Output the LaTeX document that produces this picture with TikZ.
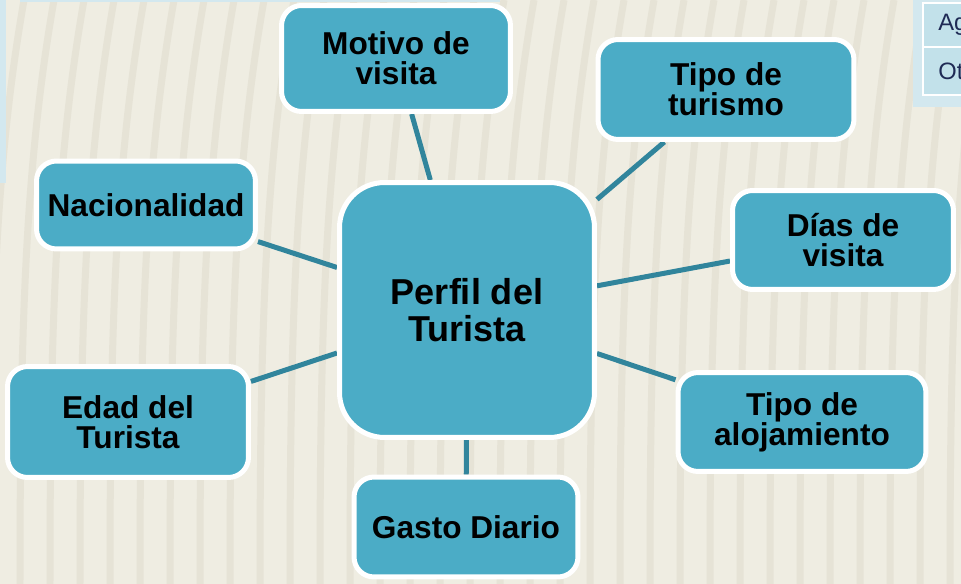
\documentclass[tikz,border=0pt]{standalone}
\usepackage{fontspec}
\setmainfont{Liberation Sans}
\usetikzlibrary{backgrounds}

\definecolor{boxblue}{HTML}{4BACC6}
\definecolor{linkteal}{HTML}{31859C}
\definecolor{sand}{HTML}{EFEDE2}
\definecolor{sandline}{HTML}{E6E3D6}
\definecolor{paleblue}{HTML}{D3E8EF}
\definecolor{cellblue}{HTML}{C2E1EA}
\definecolor{inkblue}{HTML}{1F2A55}

\begin{document}
\begin{tikzpicture}[x=0.02cm,y=-0.02cm,
    item/.style={draw=white, line width=0.1cm, fill=boxblue, rounded corners=0.4cm,
      align=center, inner sep=0pt, font=\fontsize{18}{17}\selectfont\bfseries},
    centerbox/.style={draw=white, line width=0.1cm, fill=boxblue, rounded corners=0.9cm,
      align=center, inner sep=0pt, minimum width=5.1cm, minimum height=5.1cm,
      font=\fontsize{20.5}{21}\selectfont\bfseries},
    link/.style={draw=linkteal, line width=0.1cm},
    stripe/.style={draw=sandline, line width=0.14cm},
    cell/.style={draw=white, line width=0.04cm, fill=cellblue},
    celltext/.style={anchor=west, inner sep=0pt, text=inkblue, font=\fontsize{13.5}{14}\selectfont}]

        \useasboundingbox (0,0) rectangle (961,584);

        %Centre
        \node[centerbox] (perfil) at (467,310) {Perfil del\\Turista};

        %Top
        \node[item, minimum width=4.58cm, minimum height=2.12cm] (motivo) at (396,58.5) {Motivo de\\visita};
        \node[item, minimum width=5.12cm, minimum height=2.0cm] (turismo) at (726,89.5) {Tipo de\\turismo};

        %Left
        \node[item, minimum width=4.38cm, minimum height=1.76cm] (nacion) at (146,205) {Nacionalidad};
        \node[item, minimum width=4.82cm, minimum height=2.22cm] (edad) at (128,422) {Edad del\\Turista};

        %Right
        \node[item, minimum width=4.42cm, minimum height=1.98cm] (dias) at (843,240) {Días de\\visita};
        \node[item, minimum width=4.96cm, minimum height=1.98cm] (alojamiento) at (802,422) {Tipo de\\alojamiento};

        %Bottom
        \node[item, minimum width=4.48cm, minimum height=2.0cm] (gasto) at (466,527) {Gasto Diario};

        \begin{scope}[on background layer]
            \clip (0,0) rectangle (961,584);

            %Backdrop
            \fill[sand] (0,0) rectangle (961,584);
            \foreach \x in {-40,-10,...,1000}
                \draw[stripe] (\x,584) .. controls (\x,320) and (\x+6,160) .. (\x+34,0);

            %Cut-off pieces at the edges
            \fill[paleblue] (0,0) rectangle (6,183);
            \fill[paleblue] (20,0) rectangle (500,2);
            \fill[paleblue] (913,0) rectangle (961,107);
            \draw[cell] (923,3) rectangle (975,47);
            \draw[cell] (923,47) rectangle (975,95);
            \node[celltext] (agcell) at (938,25) {Ag};
            \node[celltext] (otcell) at (938,71) {Ot};

            %Edges
            \draw[link] (perfil) -- (motivo);
            \draw[link] (perfil) -- (turismo);
            \draw[link] (perfil) -- (nacion);
            \draw[link] (perfil) -- (dias);
            \draw[link] (perfil) -- (edad);
            \draw[link] (perfil) -- (alojamiento);
            \draw[link] (perfil) -- (gasto);
        \end{scope}

\end{tikzpicture}
\end{document}
